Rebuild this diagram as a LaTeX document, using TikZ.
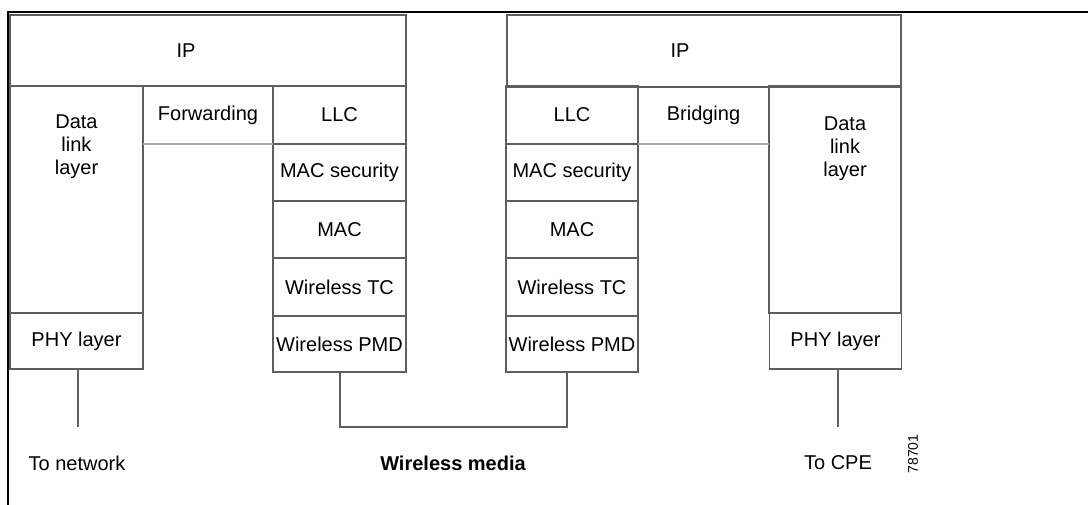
\documentclass[tikz,border=0pt]{standalone}
\usepackage{fontspec}
\setmainfont{Liberation Sans}
\begin{document}
\begin{tikzpicture}[x=1pt,y=-1pt,
  box/.style={draw=boxgray,line width=1.2pt,rectangle,inner sep=0pt,outer sep=0pt,
    font=\fontsize{20}{23}\selectfont},
  lbl/.style={inner sep=0pt,font=\fontsize{20}{23}\selectfont},
  wire/.style={draw=boxgray,line width=1.2pt},
  lite/.style={draw=litegray,line width=1.4pt}]
\definecolor{boxgray}{HTML}{5E5E5E}
\definecolor{litegray}{HTML}{A8A8A8}
\useasboundingbox (0,0) rectangle (1088,505);
% frame
\draw[line width=2pt] (7,12) -- (1088,12);
\draw[line width=2pt] (8,12) -- (8,505);
% ---- left stack
\node[box,minimum width=396pt,minimum height=71pt] (ipL) at (208,50.5) {};
\node[lbl] (ipLt) at (186,50.5) {IP};
\node[box,minimum width=133pt,minimum height=227pt] (dllL) at (76.5,199.5) {};
\node[lbl,align=center] (dllLt) at (76.5,147) {Data\\link\\layer};
\node[lbl,minimum width=130pt,minimum height=58pt] (fwd) at (208,115) {Forwarding};
\node[box,minimum width=133pt,minimum height=58pt] (llcL) at (339.5,115) {LLC};
\node[box,minimum width=133pt,minimum height=57pt] (msL) at (339.5,172.5) {MAC security};
\node[box,minimum width=133pt,minimum height=57pt] (macL) at (339.5,229.5) {MAC};
\node[box,minimum width=133pt,minimum height=58pt] (tcL) at (339.5,287) {Wireless TC};
\node[box,minimum width=133pt,minimum height=56pt] (pmdL) at (339.5,344) {Wireless PMD};
\node[box,minimum width=133pt,minimum height=56pt] (phyL) at (76.5,341) {PHY layer};
\draw[lite] (fwd.south west) -- (fwd.south east);
% ---- right stack
\node[box,minimum width=394pt,minimum height=72pt] (ipR) at (704,51) {};
\node[lbl] (ipRt) at (680,50.5) {IP};
\node[box,minimum width=132pt,minimum height=58pt] (llcR) at (572,115) {LLC};
\node[lbl,minimum width=131pt,minimum height=58pt] (brg) at (703.5,115) {Bridging};
\node[box,minimum width=132pt,minimum height=227pt] (dllR) at (835,199.5) {};
\node[lbl,align=center] (dllRt) at (845,149) {Data\\link\\layer};
\node[box,minimum width=132pt,minimum height=57pt] (msR) at (572,172.5) {MAC security};
\node[box,minimum width=132pt,minimum height=57pt] (macR) at (572,229.5) {MAC};
\node[box,minimum width=132pt,minimum height=58pt] (tcR) at (572,287) {Wireless TC};
\node[box,minimum width=132pt,minimum height=56pt] (pmdR) at (572,344) {Wireless PMD};
\node[box,minimum width=132pt,minimum height=56pt] (phyR) at (835.5,341) {PHY layer};
\draw[lite] (brg.south west) -- (brg.south east);
% ---- connectors
\coordinate (netEnd) at (78,427);
\coordinate (cpeEnd) at (838,427);
\coordinate (wmL) at (340,427);
\coordinate (wmR) at (567,427);
\draw[wire] (phyL.south -| netEnd) -- (netEnd);
\draw[wire] (phyR.south -| cpeEnd) -- (cpeEnd);
\draw[wire] (pmdL.south -| wmL) -- (wmL) -- (wmR) -- (pmdR.south -| wmR);
% ---- labels
\node[lbl] (tonet) at (77,463) {To network};
\node[lbl,font=\fontsize{20}{23}\selectfont\bfseries] (wmedia) at (453,463) {Wireless media};
\node[lbl] (tocpe) at (838,463) {To CPE};
\node[lbl,rotate=90,font=\fontsize{14}{16}\selectfont] (fig) at (913,454) {78701};
\end{tikzpicture}
\end{document}
